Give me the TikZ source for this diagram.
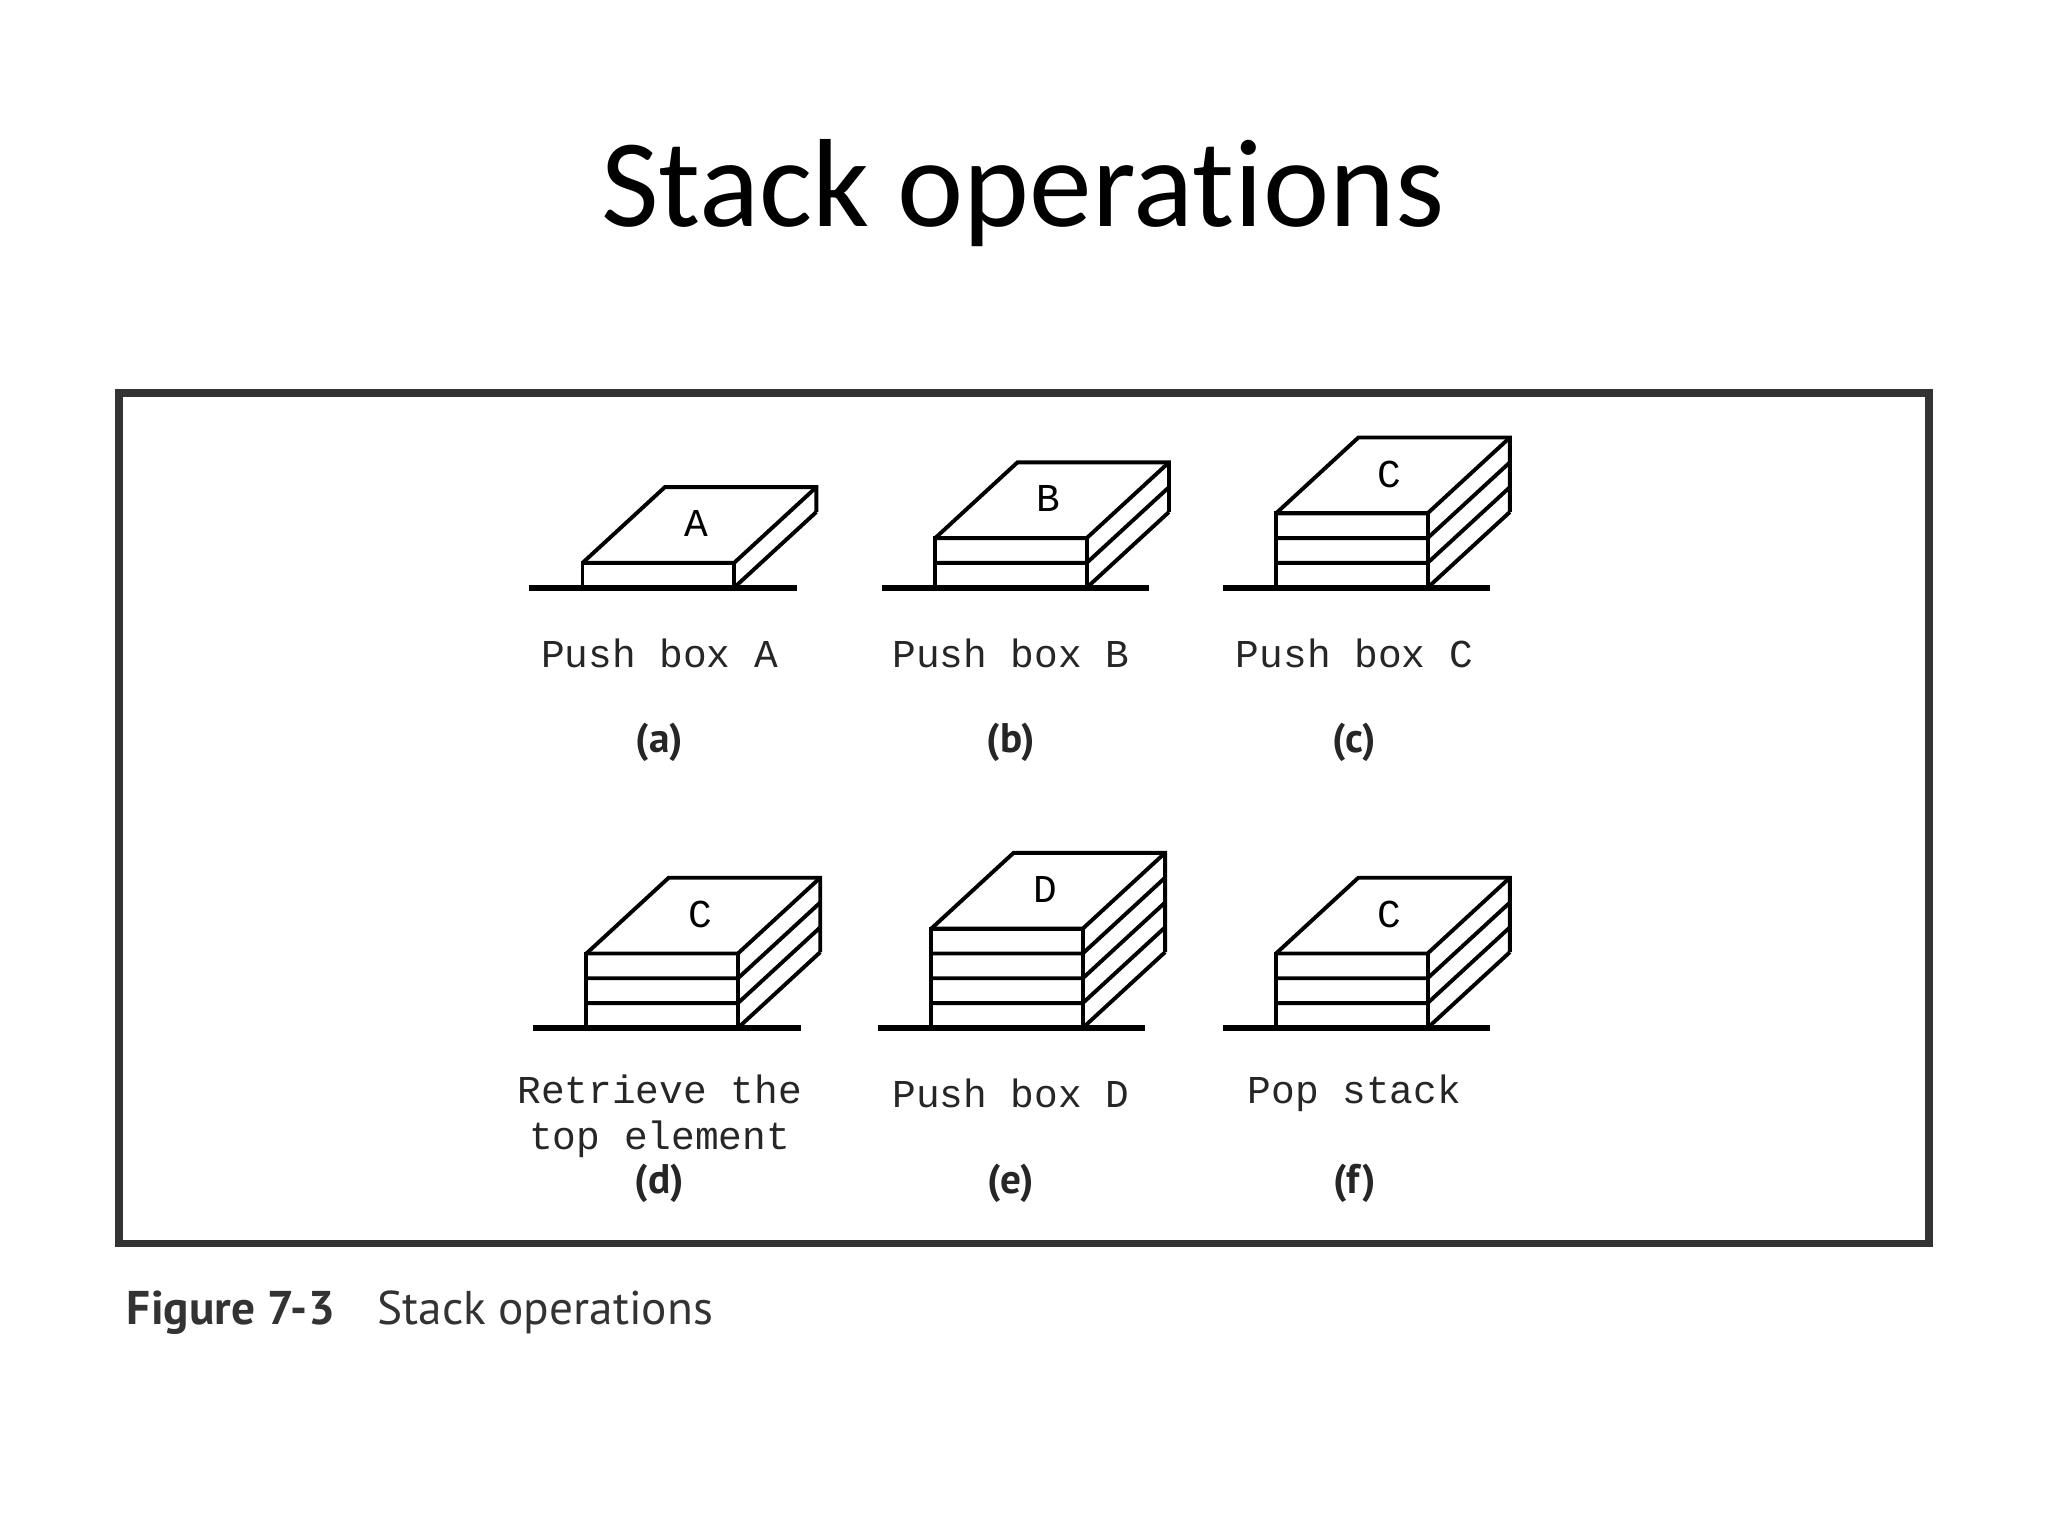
\documentclass[tikz,border=0pt]{standalone}
\usepackage{fontspec}
\setmainfont[Ligatures=NoCommon]{Carlito}
\setmonofont{Liberation Mono}
\newfontfamily\capfont{PT Sans}
\begin{document}
\begin{tikzpicture}[x=0.01cm,y=-0.01cm,line width=0.85pt,
  lbl/.style={font=\ttfamily\fontsize{8.6}{10}\selectfont, text=black!85, align=center},
  tag/.style={font=\capfont\bfseries\fontsize{9}{10}\selectfont, text=black!85}]
\useasboundingbox (0,0) rectangle (1568,1176);
\newcommand{\stk}[4]{% x0, yground, layers, letter
  \pgfmathsetmacro{\xa}{#1}\pgfmathsetmacro{\yg}{#2}
  \pgfmathsetmacro{\yt}{#2-19*#3}
  \draw (\xa,\yg) rectangle (\xa+116,\yt);
  \foreach \k in {0,...,#3}{
    \draw (\xa,\yg-19*\k) -- (\xa+116,\yg-19*\k) -- (\xa+179,\yg-19*\k-58);}
  \draw (\xa+179,\yg-58) -- (\xa+179,\yt-58) -- (\xa+63,\yt-58) -- (\xa,\yt);
  \node[font=\ttfamily\fontsize{8.6}{10}\selectfont] at (\xa+87,\yt-30) {#4};
  \draw[line width=1.4pt] (\xa-41,\yg) -- (\xa+164,\yg);
}
\node[font=\fontsize{27.3}{32}\selectfont] (title) at (783,148) {Stack operations};
\draw[line width=1.6pt, draw=black!80] (91,301) rectangle (1477,952);
\stk{446}{450}{1}{A}
\stk{716}{450}{2}{B}
\stk{977}{450}{3}{C}
\stk{449}{787}{3}{C}
\stk{713}{787}{4}{D}
\stk{977}{787}{3}{C}
\node[lbl] (la) at (505,500) {Push box A};
\node[lbl] (lb) at (774,500) {Push box B};
\node[lbl] (lc) at (1037,500) {Push box C};
\node[lbl] (ld) at (505,855) {Retrieve the\\top element};
\node[lbl] (le) at (774,837) {Push box D};
\node[lbl] (lf) at (1037,837) {Pop stack};
\node[tag] (ta) at (505,568) {(a)};
\node[tag] (tb) at (774,568) {(b)};
\node[tag] (tc) at (1037,568) {(c)};
\node[tag] (td) at (505,906) {(d)};
\node[tag] (te) at (774,906) {(e)};
\node[tag] (tf) at (1037,906) {(f)};
\node[anchor=west, font=\capfont\fontsize{10.3}{12}\selectfont, text=black!80] (cap) at (84,1005) {\textbf{Figure 7-3}\hspace{0.9em}Stack operations};
\end{tikzpicture}
\end{document}
